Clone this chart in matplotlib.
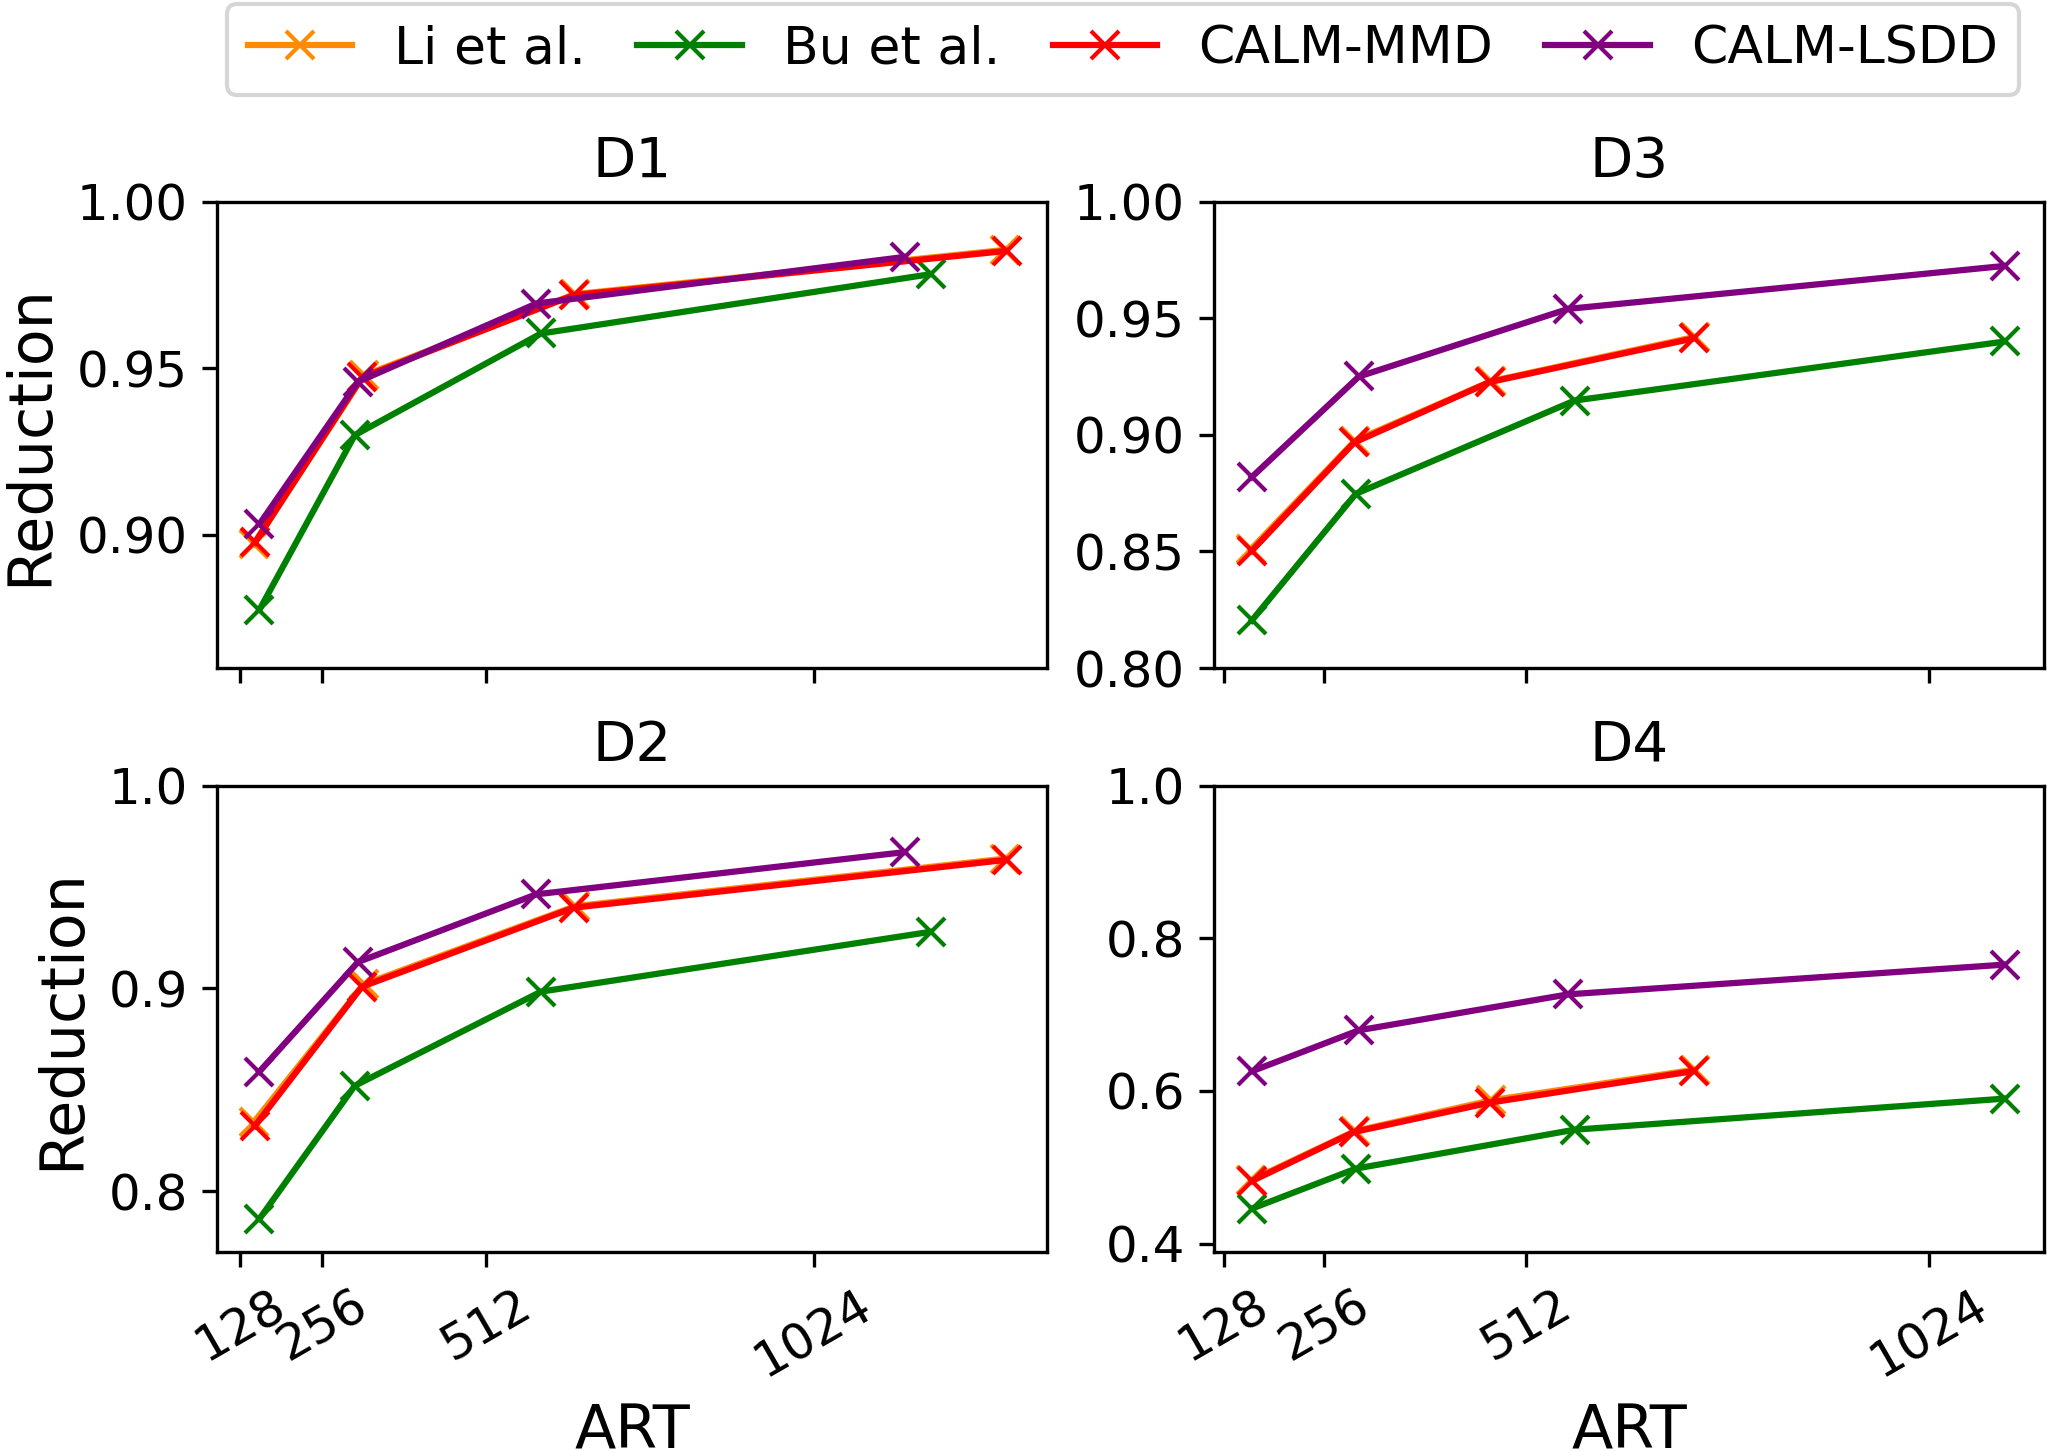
import matplotlib
matplotlib.use("Agg")
import matplotlib.pyplot as plt

# ---- data ----
methods = ["Li et al.", "Bu et al.", "CALM-MMD", "CALM-LSDD"]
colors = ["darkorange", "green", "red", "purple"]

# ART (x) values per column
art_left_li = [149, 321, 651, 1324]
art_left_bu = [158, 307, 598, 1207]
art_left_mmd = [151, 318, 649, 1326]
art_left_lsdd = [158, 312, 591, 1167]

art_right_li = [163, 295, 468, 727]
art_right_bu = [164, 296, 574, 1120]
art_right_mmd = [164, 294, 466, 726]
art_right_lsdd = [164, 300, 566, 1120]

# Reduction (y) values
d1_li = [0.8972, 0.9478, 0.9722, 0.9855]
d1_bu = [0.8775, 0.9299, 0.9604, 0.9782]
d1_mmd = [0.8977, 0.9472, 0.9719, 0.9852]
d1_lsdd = [0.9032, 0.9459, 0.9694, 0.9834]

d2_li = [0.8340, 0.9020, 0.9405, 0.9640]
d2_bu = [0.7864, 0.8520, 0.8984, 0.9279]
d2_mmd = [0.8323, 0.9008, 0.9398, 0.9634]
d2_lsdd = [0.8590, 0.9130, 0.9464, 0.9672]

d3_li = [0.8510, 0.8975, 0.9230, 0.9420]
d3_bu = [0.8204, 0.8747, 0.9147, 0.9400]
d3_mmd = [0.8503, 0.8967, 0.9226, 0.9414]
d3_lsdd = [0.8819, 0.9250, 0.9540, 0.9724]

d4_li = [0.4830, 0.5475, 0.5878, 0.6280]
d4_bu = [0.4459, 0.4983, 0.5493, 0.5900]
d4_mmd = [0.4821, 0.5463, 0.5847, 0.6262]
d4_lsdd = [0.6258, 0.6795, 0.7266, 0.7655]

xticks = [128, 256, 512, 1024]

W, H, DPI = 2047, 1451, 300
fig = plt.figure(figsize=(W / DPI, H / DPI), dpi=DPI)

lx, rx, cw = 0.106, 0.5931, 0.4055
ty, by, ch = 0.5396, 0.1371, 0.3215

panels = [
    ("D1", [lx, ty, cw, ch], (art_left_li, art_left_bu, art_left_mmd, art_left_lsdd),
     (d1_li, d1_bu, d1_mmd, d1_lsdd), (0.86, 1.0), [0.90, 0.95, 1.00], "%.2f", (91.6, 1389), True, False),
    ("D3", [rx, ty, cw, ch], (art_right_li, art_right_bu, art_right_mmd, art_right_lsdd),
     (d3_li, d3_bu, d3_mmd, d3_lsdd), (0.80, 1.0), [0.80, 0.85, 0.90, 0.95, 1.00], "%.2f", (116, 1170), False, False),
    ("D2", [lx, by, cw, ch], (art_left_li, art_left_bu, art_left_mmd, art_left_lsdd),
     (d2_li, d2_bu, d2_mmd, d2_lsdd), (0.77, 1.0), [0.8, 0.9, 1.0], "%.1f", (91.6, 1389), True, True),
    ("D4", [rx, by, cw, ch], (art_right_li, art_right_bu, art_right_mmd, art_right_lsdd),
     (d4_li, d4_bu, d4_mmd, d4_lsdd), (0.389, 1.0), [0.4, 0.6, 0.8, 1.0], "%.1f", (116, 1170), False, True),
]

handles = None
for title, rect, xs, ys, ylim, yt, fmt, xlim, ylab, xlab in panels:
    ax = fig.add_axes(rect)
    hs = []
    for x, y, c, m in zip(xs, ys, colors, methods):
        h, = ax.plot(x, y, color=c, marker="x", markersize=6.5, linewidth=1.5, label=m)
        hs.append(h)
    handles = hs
    ax.set_xlim(*xlim)
    ax.set_ylim(*ylim)
    ax.set_yticks(yt)
    ax.set_yticklabels([fmt % v for v in yt])
    ax.set_xticks(xticks)
    ax.tick_params(labelsize=12)
    if xlab:
        ax.set_xticklabels([str(v) for v in xticks], rotation=30)
        ax.set_xlabel("ART", fontsize=14.5)
    else:
        ax.set_xticklabels([])
    if ylab:
        ax.set_ylabel("Reduction", fontsize=14.5)
    ax.set_title(title, fontsize=13.5)

fig.legend(handles, methods, loc="center", bbox_to_anchor=(0.5486, 0.966),
           ncol=4, fontsize=12.5, columnspacing=1.0)

fig.savefig("out.png", dpi=DPI)
